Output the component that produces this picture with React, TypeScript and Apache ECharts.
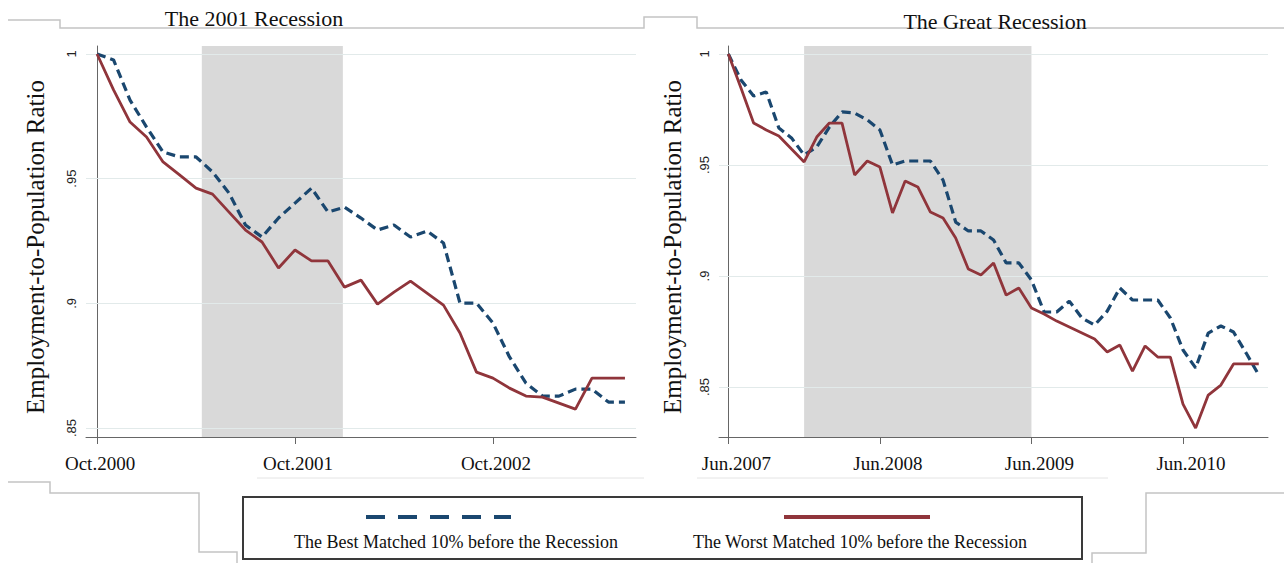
import React, { useEffect, useRef } from 'react';
import * as echarts from 'echarts';

// months since start (Oct.2000 = 0 for left panel, Jun.2007 = 0 for right panel)
const leftBest = [1.0, 0.9976, 0.9815, 0.9707, 0.9607, 0.9587, 0.9587, 0.9527, 0.9442, 0.9314, 0.9266, 0.9342, 0.9402, 0.9462, 0.9366, 0.9386, 0.9342, 0.9294, 0.9314, 0.9266, 0.929, 0.9242, 0.9001, 0.9001, 0.8921, 0.8785, 0.868, 0.8628, 0.8628, 0.8656, 0.8656, 0.8604, 0.8604];
const leftWorst = [1.0, 0.9856, 0.9727, 0.9667, 0.9567, 0.9515, 0.9462, 0.9438, 0.9366, 0.9294, 0.9246, 0.9142, 0.9214, 0.917, 0.917, 0.9065, 0.9093, 0.8997, 0.9045, 0.9089, 0.9041, 0.8993, 0.8881, 0.8724, 0.87, 0.866, 0.8628, 0.8624, 0.86, 0.8576, 0.87, 0.87, 0.87];
const rightBest = [1.0, 0.9883, 0.9811, 0.9829, 0.9667, 0.9622, 0.9545, 0.9581, 0.9671, 0.9739, 0.9734, 0.9703, 0.9658, 0.95, 0.9518, 0.9518, 0.9518, 0.9432, 0.9243, 0.9203, 0.9203, 0.9162, 0.9059, 0.9059, 0.8982, 0.8838, 0.8838, 0.8887, 0.8811, 0.8779, 0.8842, 0.8946, 0.8892, 0.8892, 0.8892, 0.8811, 0.8667, 0.8586, 0.8743, 0.8775, 0.8748, 0.8653, 0.8554];
const rightWorst = [1.0, 0.9847, 0.9689, 0.9658, 0.9631, 0.9572, 0.9514, 0.9626, 0.9689, 0.9689, 0.9455, 0.9518, 0.9491, 0.9284, 0.9428, 0.9401, 0.9288, 0.9261, 0.9171, 0.9032, 0.9005, 0.9059, 0.8914, 0.8946, 0.8856, 0.8829, 0.8797, 0.877, 0.8743, 0.8716, 0.8658, 0.8689, 0.8572, 0.8685, 0.8635, 0.8635, 0.8423, 0.8315, 0.8464, 0.8509, 0.8604, 0.8604, 0.8604];

const leftTickMonths = [0, 12, 24];
const leftTickLabels = ['Oct.2000', 'Oct.2001', 'Oct.2002'];
const rightTickMonths = [0, 12, 24, 36];
const rightTickLabels = ['Jun.2007', 'Jun.2008', 'Jun.2009', 'Jun.2010'];
const yTicks = [0.85, 0.9, 0.95, 1];
const yTickLabels = ['.85', '.9', '.95', '1'];
const leftRecession = [6.35, 14.9];
const rightRecession = [6, 24];

const panelTitles = ['The 2001 Recession', 'The Great Recession'];
const yTitle = 'Employment-to-Population Ratio';
const legendNames = ['The Best Matched 10% before the Recession', 'The Worst Matched 10% before the Recession'];

const BLUE = '#1a476f';
const RED = '#90353b';
const SERIF = '"Liberation Serif", "Times New Roman", serif';
const SANS = '"Liberation Sans", Arial, sans-serif';

function xAxisDef(gridIndex: number, min: number, max: number, ticks: number[], labels: string[], shift: number) {
  return {
    type: 'value', gridIndex, min, max,
    axisLine: { show: true, onZero: false, lineStyle: { color: '#666', width: 1 } },
    axisTick: { show: true, customValues: ticks, length: 7, lineStyle: { color: '#666' } },
    axisLabel: {
      customValues: ticks,
      formatter: (v: number) => labels[ticks.indexOf(Math.round(v))] ?? '',
      fontFamily: SERIF, fontSize: 19, color: '#111', margin: 17,
      padding: [0, 0, 0, shift],
    },
    splitLine: { show: false },
  };
}

function yAxisDef(gridIndex: number, min: number, max: number) {
  return {
    type: 'value', gridIndex, min, max,
    axisLine: { show: true, lineStyle: { color: '#666', width: 1 } },
    axisTick: { show: true, customValues: yTicks, length: 5, lineStyle: { color: '#666' } },
    axisLabel: {
      customValues: yTicks,
      rotate: 90,
      formatter: (v: number) => yTickLabels[yTicks.findIndex((t) => Math.abs(t - v) < 1e-6)] ?? '',
      fontFamily: SANS, fontSize: 13, color: '#222', margin: 8,
    },
    splitLine: { show: false },
  };
}

function lineSeries(axis: number, data: number[], color: string, dashed: boolean, extra: any = {}) {
  return {
    type: 'line', xAxisIndex: axis, yAxisIndex: axis,
    data: data.map((v, i) => [i, v]),
    showSymbol: false, symbol: 'none', silent: true, z: 3,
    lineStyle: { color, width: dashed ? 3.2 : 2.8, type: dashed ? [9, 5] : 'solid' },
    emphasis: { disabled: true },
    ...extra,
  };
}

function markers(rec: number[]) {
  return {
    markArea: { silent: true, z: 1, itemStyle: { color: '#d9d9d9' }, data: [[{ xAxis: rec[0] }, { xAxis: rec[1] }]] },
    markLine: {
      silent: true, z: 2, symbol: ['none', 'none'], label: { show: false },
      lineStyle: { color: '#e2eaea', width: 1, type: 'solid' },
      data: yTicks.map((v) => ({ yAxis: v })),
    },
  };
}

const frameColor = '#c4c4c4';

export default function App() {
  const ref = useRef<HTMLDivElement>(null);
  useEffect(() => {
    if (!ref.current) return;
    const chart = echarts.init(ref.current, undefined, { renderer: 'svg' });
    const txt = (text: string, x: number, y: number, fontSize: number, extra: any = {}) => ({
      type: 'text', x, y, silent: true, ...extra,
      style: {
        text, fontFamily: SERIF, fontSize, fill: '#111',
        align: 'center', verticalAlign: 'middle', textAlign: 'center', textVerticalAlign: 'middle',
      },
    });
    const poly = (points: number[][], color = frameColor, lineWidth = 1.5) => ({
      type: 'polyline', silent: true, shape: { points }, style: { stroke: color, lineWidth, fill: 'none' },
    });
    chart.setOption({
      animation: false,
      backgroundColor: '#ffffff',
      grid: [
        { left: 86, top: 46, width: 550, height: 391 },
        { left: 719, top: 46, width: 549, height: 391 },
      ],
      xAxis: [
        xAxisDef(0, -0.67, 32.67, leftTickMonths, leftTickLabels, 6),
        xAxisDef(1, -0.74, 42.73, rightTickMonths, rightTickLabels, 16),
      ],
      yAxis: [yAxisDef(0, 0.8464, 1.0032), yAxisDef(1, 0.8275, 1.0036)],
      series: [
        lineSeries(0, leftBest, BLUE, true, markers(leftRecession)),
        lineSeries(0, leftWorst, RED, false),
        lineSeries(1, rightBest, BLUE, true, markers(rightRecession)),
        lineSeries(1, rightWorst, RED, false),
      ],
      graphic: [
        // frame lines (combined graph borders)
        poly([[8, 20], [60, 20], [60, 28], [644, 28], [644, 17], [697, 17], [697, 28], [1284, 28]]),
        poly([[8, 482], [50, 482], [50, 493], [199, 493], [199, 552], [237, 552], [237, 563]]),
        poly([[1092, 563], [1092, 553], [1146, 553], [1146, 493], [1284, 493]]),
        poly([[257, 478], [644, 478]], '#e4e4e4', 1),
        poly([[697, 478], [1108, 478]], '#e4e4e4', 1),
        // panel titles
        txt(panelTitles[0], 254, 18, 22),
        txt(panelTitles[1], 995, 21, 22),
        // y axis titles
        txt(yTitle, 35, 247, 25, { rotation: Math.PI / 2 }),
        txt(yTitle, 672, 247, 25, { rotation: Math.PI / 2 }),
        // legend box
        { type: 'rect', silent: true, shape: { x: 243, y: 497, width: 839, height: 62 }, style: { fill: '#fff', stroke: '#3a3a3a', lineWidth: 2 } },
        { type: 'line', silent: true, shape: { x1: 366, y1: 517, x2: 511, y2: 517 }, style: { stroke: BLUE, lineWidth: 4, lineDash: [19, 13] } },
        { type: 'line', silent: true, shape: { x1: 784, y1: 517, x2: 930, y2: 517 }, style: { stroke: RED, lineWidth: 4 } },
        txt(legendNames[0], 456, 542, 18),
        txt(legendNames[1], 860, 542, 18),
      ],
    });
    return () => chart.dispose();
  }, []);
  return <div ref={ref} style={{ position: 'absolute', left: 0, top: 0, width: 1284, height: 563 }} />;
}
